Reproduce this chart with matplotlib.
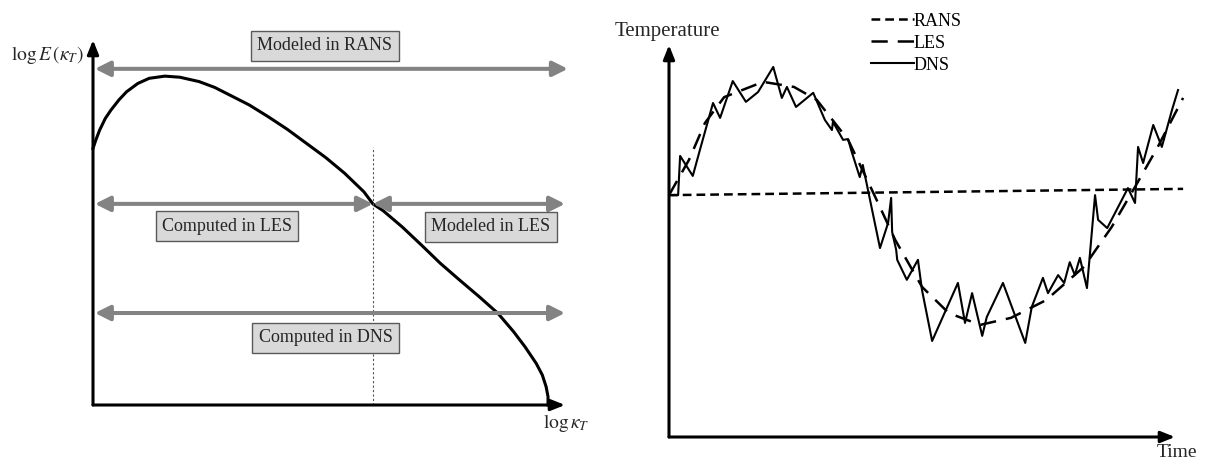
import numpy as np
import matplotlib.pyplot as plt
from matplotlib.patches import ArrowStyle

plt.rcParams['font.family'] = ['Liberation Serif', 'DejaVu Serif']
plt.rcParams['mathtext.fontset'] = 'stix'

# left panel: energy spectrum (arbitrary log units, axes run 0..100)
spec_k = [0.0, 0.6, 1.4, 2.6, 3.8, 5.5, 7.1, 9.5, 11.9, 15.2, 18.4, 22.5, 25.8,
          29.0, 33.1, 37.1, 41.2, 45.2, 49.3, 53.3, 57.4, 59.3, 61.5, 65.5, 69.6,
          73.6, 77.7, 81.8, 85.8, 89.1, 91.5, 93.9, 95.2, 96.0, 96.4, 96.4]
spec_E = [70.3, 72.6, 75.3, 78.5, 80.8, 83.6, 85.8, 88.1, 89.5, 90.1, 89.8, 88.6, 87.0,
          84.9, 82.2, 79.0, 75.5, 71.7, 67.8, 63.5, 58.4, 55.1, 53.2, 48.8, 43.8,
          38.8, 34.2, 29.7, 25.1, 20.1, 16.0, 11.4, 8.2, 5.0, 2.3, 0.0]
k_cut = 59.3
cut_top = 70.7
band_y = [92.1, 55.1, 25.2]            # RANS, LES, DNS arrows
band_labels = ['Modeled in RANS', 'Computed in LES', 'Modeled in LES', 'Computed in DNS']
label_xy = [(49.1, 98.4), (28.4, 49.0), (84.3, 48.8), (49.3, 18.4)]

# right panel: temperature history (time 0..100, temperature 0..100)
rans_t = [0, 101.6]
rans_T = [61.7, 63.3]
les_t = [0, 3.95, 7.1, 10.9, 18.6, 24.7, 29.2, 35.4, 40.3, 44.7, 50.0, 55.3,
         61.5, 67.6, 74.5, 82.0, 87.5, 92.1, 96.6, 101.6]
les_T = [61.7, 70.7, 80.1, 86.7, 90.6, 89.3, 86.0, 75.8, 62.5, 50.3, 38.3, 31.6,
         28.6, 30.4, 34.9, 43.4, 53.6, 63.8, 74.0, 86.5]
dns_t = [0.0, 1.8, 2.2, 4.7, 6.1, 8.7, 10.1, 12.6, 15.2, 17.6, 20.6, 22.3, 23.3,
         25.1, 28.5, 30.8, 32.2, 32.4, 34.4, 35.4, 36.0, 37.7, 38.3, 41.7, 43.3,
         43.9, 44.1, 44.9, 45.1, 47.0, 49.2, 50.0, 52.0, 57.1, 58.5, 59.9, 61.9,
         62.8, 66.0, 70.4, 71.7, 73.9, 74.9, 76.9, 78.1, 79.2, 80.2, 81.2, 82.6,
         84.2, 84.8, 86.6, 90.7, 92.1, 92.7, 93.7, 95.7, 97.4, 99.4, 100.6]
dns_T = [61.7, 61.7, 71.7, 66.6, 73.2, 85.2, 81.4, 90.8, 85.5, 88.0, 94.4, 86.5, 89.3,
         84.2, 87.8, 80.9, 78.3, 80.4, 75.8, 76.0, 73.2, 66.3, 69.4, 48.2, 54.6,
         61.0, 52.3, 47.7, 45.2, 40.1, 45.2, 37.5, 24.5, 39.3, 29.1, 36.7, 25.8,
         30.6, 39.3, 24.0, 33.2, 40.6, 36.7, 41.3, 39.3, 44.6, 41.3, 45.7, 38.0,
         61.7, 55.4, 53.3, 63.5, 59.7, 74.0, 69.9, 79.6, 74.0, 83.4, 88.5]

W, H = 1205, 459
fig = plt.figure(figsize=(W / 100, H / 100), dpi=100)

ax1 = fig.add_axes([93 / W, (H - 405) / H, (565 - 93) / W, (405 - 40) / H])
ax2 = fig.add_axes([669 / W, (H - 437) / H, (1175 - 669) / W, (437 - 45) / H])
for ax in (ax1, ax2):
    ax.set_xlim(0, 100)
    ax.set_ylim(0, 100)
    ax.axis('off')

axis_head = ArrowStyle('-|>', head_length=0.7, head_width=0.28)
band_head = ArrowStyle('<|-|>', head_length=0.6, head_width=0.3)


def axis_arrow(ax, x0, y0, x1, y1):
    ax.annotate('', xy=(x1, y1), xytext=(x0, y0), annotation_clip=False,
                arrowprops=dict(arrowstyle=axis_head, mutation_scale=12, lw=2.2,
                                color='black', shrinkA=0, shrinkB=0))


def band_arrow(ax, x0, x1, y):
    ax.annotate('', xy=(x1, y), xytext=(x0, y), annotation_clip=False,
                arrowprops=dict(arrowstyle=band_head, mutation_scale=15, lw=2.9,
                                color='#838383', shrinkA=0, shrinkB=0))


# spectrum panel
axis_arrow(ax1, 0, 0, 100, 0)
axis_arrow(ax1, 0, 0, 0, 100)
ax1.plot(spec_k, spec_E, color='black', lw=2.2, solid_joinstyle='round', clip_on=False)
ax1.plot([k_cut, k_cut], [0, cut_top], color='#555555', lw=0.8, ls=(0, (2, 2)))

band_arrow(ax1, 0.4, 100.6, band_y[0])
band_arrow(ax1, 0.4, k_cut, band_y[1])
band_arrow(ax1, k_cut, 100, band_y[1])
band_arrow(ax1, 0.4, 100, band_y[2])

for txt, (x, y) in zip(band_labels, label_xy):
    ax1.text(x, y, txt, ha='center', va='center', fontsize=13, color='#262626',
             bbox=dict(boxstyle='square,pad=0.35', fc='#d9d9d9', ec='#5a5a5a', lw=1.0))

ax1.text(-9.7, 95.9, r'$\log E\,(\kappa_T)$', ha='center', va='center',
         fontsize=14, color='#262626', clip_on=False)
ax1.text(100.2, -4.9, r'$\log \kappa_T$', ha='center', va='center',
         fontsize=14, color='#262626', clip_on=False)

# temperature panel
axis_arrow(ax2, 0, 0, 100, 0)
axis_arrow(ax2, 0, 0, 0, 100)
ax2.plot(rans_t, rans_T, color='black', lw=1.8, ls=(0, (3.5, 2)), clip_on=False, label='RANS')
ax2.plot(les_t, les_T, color='black', lw=1.8, ls=(0, (6.5, 4)), clip_on=False, label='LES')
ax2.plot(dns_t, dns_T, color='black', lw=1.5, clip_on=False, label='DNS')

ax2.text(-0.4, 103.4, 'Temperature', ha='center', va='center', fontsize=15,
         color='#262626', clip_on=False)
ax2.text(100.4, -5.1, 'Time', ha='center', va='baseline', fontsize=14,
         color='#262626', clip_on=False)

ax2.legend(loc='upper left', bbox_to_anchor=(858 / W, 1.0), bbox_transform=fig.transFigure,
           frameon=False, fontsize=13, handlelength=2.4, handletextpad=0.0,
           labelspacing=0.28, borderpad=0.2)

fig.savefig('out.png', dpi=100)
